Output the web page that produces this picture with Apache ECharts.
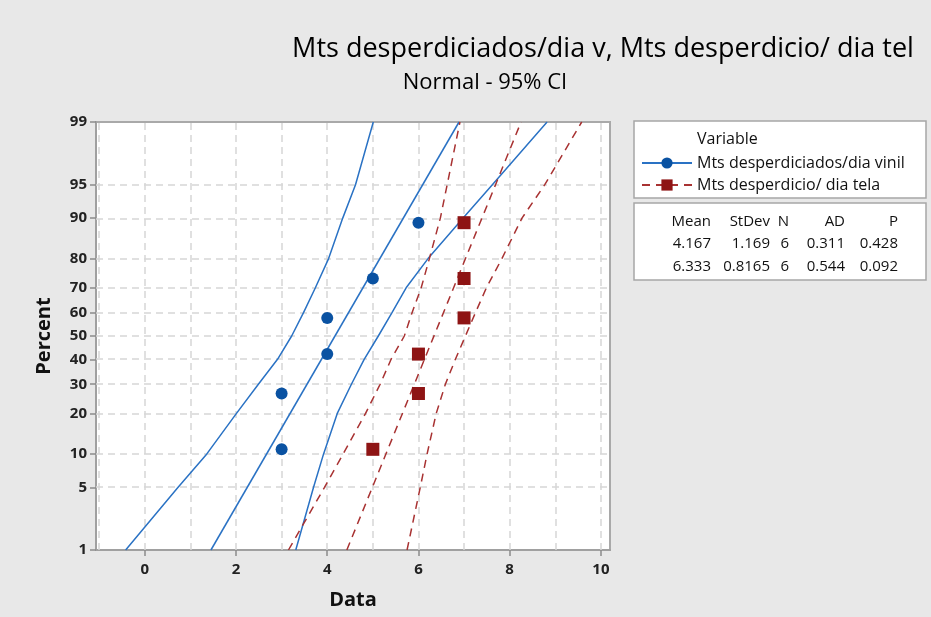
<!DOCTYPE html>
<html><head><meta charset="utf-8">
<script src="https://cdn.jsdelivr.net/npm/echarts@6/dist/echarts.min.js"></script>
<style>html,body{margin:0;padding:0;background:#e8e8e8;}#c{width:931px;height:617px;}</style>
</head><body><div id="c"></div>
<script>
// ---------- data ----------
const percentTicks = [1, 5, 10, 20, 30, 40, 50, 60, 70, 80, 90, 95, 99];
const xTickLabels = [0, 2, 4, 6, 8, 10];
const xGridValues = [-1, 0, 1, 2, 3, 4, 5, 6, 7, 8, 9, 10];

const vinilName = 'Mts desperdiciados/dia vinil';
const telaName = 'Mts desperdicio/ dia tela';

const plotPercents = [10.9, 26.6, 42.2, 57.8, 73.4, 89.1];
const vinilData = [3, 3, 4, 4, 5, 6];
const telaData = [5, 6, 6, 7, 7, 7];

const ciPercents = [1, 5, 10, 20, 30, 40, 50, 60, 70, 80, 90, 95, 99];
const vinilLower = [-0.42, 0.73, 1.36, 2.01, 2.49, 2.91, 3.22, 3.48, 3.74, 4.03, 4.34, 4.62, 5.01];
const vinilUpper = [3.31, 3.70, 3.92, 4.22, 4.53, 4.81, 5.12, 5.42, 5.73, 6.21, 6.98, 7.62, 8.82];
const telaLower = [3.15, 3.94, 4.35, 4.84, 5.16, 5.40, 5.69, 5.86, 6.06, 6.24, 6.48, 6.63, 6.91];
const telaUpper = [5.75, 6.04, 6.19, 6.39, 6.59, 6.81, 7.03, 7.25, 7.49, 7.83, 8.27, 8.77, 9.58];

const fitPercents = [1, 99];
const vinilFit = [1.45, 6.89];
const telaFit = [4.43, 8.25];

const statsHeader = ['Mean', 'StDev', 'N', 'AD', 'P'];
const statsVinil = ['4.167', '1.169', '6', '0.311', '0.428'];
const statsTela = ['6.333', '0.8165', '6', '0.544', '0.092'];

// ---------- normal probability scale ----------
function normInv(p) {
  const a = [-3.969683028665376e+01, 2.209460984245205e+02, -2.759285104469687e+02, 1.383577518672690e+02, -3.066479806614716e+01, 2.506628277459239e+00];
  const b = [-5.447609879822406e+01, 1.615858368580409e+02, -1.556989798598866e+02, 6.680131188771972e+01, -1.328068155288572e+01];
  const c = [-7.784894002430293e-03, -3.223964580411365e-01, -2.400758277161838e+00, -2.549732539343734e+00, 4.374664141464968e+00, 2.938163982698783e+00];
  const d = [7.784695709041462e-03, 3.224671290700398e-01, 2.445134137142996e+00, 3.754408661907416e+00];
  const pl = 0.02425, ph = 1 - pl;
  let q, r;
  if (p < pl) { q = Math.sqrt(-2 * Math.log(p)); return (((((c[0]*q+c[1])*q+c[2])*q+c[3])*q+c[4])*q+c[5]) / ((((d[0]*q+d[1])*q+d[2])*q+d[3])*q+1); }
  if (p <= ph) { q = p - 0.5; r = q*q; return (((((a[0]*r+a[1])*r+a[2])*r+a[3])*r+a[4])*r+a[5])*q / (((((b[0]*r+b[1])*r+b[2])*r+b[3])*r+b[4])*r+1); }
  q = Math.sqrt(-2 * Math.log(1 - p)); return -(((((c[0]*q+c[1])*q+c[2])*q+c[3])*q+c[4])*q+c[5]) / ((((d[0]*q+d[1])*q+d[2])*q+d[3])*q+1);
}
const zOf = p => normInv(p / 100);
const pair = (xs, ps) => xs.map((x, i) => [x, zOf(ps[i])]);

const FONT = '"Open Sans", "Noto Sans", sans-serif';
const BLUE_LINE = '#2a72c4', BLUE_PT = '#0a52a2';
const RED_LINE = '#a83232', RED_PT = '#8e1414';

const yTickZ = percentTicks.map(zOf);
function pctLabel(v) {
  let best = 0, bd = 1e9;
  yTickZ.forEach((z, i) => { const dd = Math.abs(z - v); if (dd < bd) { bd = dd; best = i; } });
  return String(percentTicks[best]);
}

const gridMarks = xGridValues.map(v => ({ xAxis: v }))
  .concat(percentTicks.filter(p => p !== 1 && p !== 99).map(p => ({ yAxis: zOf(p) })));

// stats table texts
const colRight = [711, 770, 789, 845, 898];
const rowY = [222, 244, 267];
const statTexts = [];
[statsHeader, statsVinil, statsTela].forEach((row, r) => {
  row.forEach((t, c) => {
    statTexts.push({ type: 'text', x: colRight[c], y: rowY[r], style: { text: t, font: '15px ' + FONT, fill: '#111', align: 'right', verticalAlign: 'middle' } });
  });
});

const chart = echarts.init(document.getElementById('c'));
chart.setOption({
  backgroundColor: '#e8e8e8',
  animation: false,
  title: [
    { text: 'Mts desperdiciados/dia v, Mts desperdicio/ dia tel', left: 598, top: 31, textAlign: 'center', textStyle: { fontFamily: FONT, fontSize: 27, fontWeight: 'normal', color: '#000' } },
    { text: 'Normal - 95% CI', left: 480, top: 67, textAlign: 'center', textStyle: { fontFamily: FONT, fontSize: 22, fontWeight: 'normal', color: '#000' } }
  ],
  grid: { left: 96, right: 321, top: 122, bottom: 67, show: true, backgroundColor: '#ffffff', borderColor: '#a9a9a9', borderWidth: 2 },
  xAxis: {
    type: 'value', min: -1.07, max: 10.2,
    name: 'Data', nameLocation: 'middle', nameGap: 40,
    nameTextStyle: { fontFamily: FONT, fontSize: 20, fontWeight: 'bold', color: '#111' },
    axisLine: { show: true, onZero: false, lineStyle: { color: '#a0a0a0', width: 2 } },
    axisTick: { show: true, customValues: xTickLabels, length: 6, lineStyle: { color: '#8a8a8a', width: 1.5 } },
    axisLabel: { customValues: xTickLabels, margin: 12, fontFamily: FONT, fontSize: 15, fontWeight: 'bold', color: '#222' },
    splitLine: { show: false }
  },
  yAxis: {
    type: 'value', min: zOf(1), max: zOf(99),
    name: 'Percent', nameLocation: 'middle', nameGap: 42, nameRotate: 90,
    nameTextStyle: { fontFamily: FONT, fontSize: 20, fontWeight: 'bold', color: '#111' },
    axisLine: { show: true, onZero: false, lineStyle: { color: '#a0a0a0', width: 2 } },
    axisTick: { show: true, customValues: yTickZ, length: 6, lineStyle: { color: '#8a8a8a', width: 1.5 } },
    axisLabel: { customValues: yTickZ, margin: 9, formatter: v => pctLabel(v), fontFamily: FONT, fontSize: 15, fontWeight: 'bold', color: '#222' },
    splitLine: { show: false }
  },
  legend: {
    data: [vinilName, telaName], orient: 'vertical', left: 636, top: 150,
    itemWidth: 50, itemHeight: 14, itemGap: 6, selectedMode: false, z: 10,
    textStyle: { fontFamily: FONT, fontSize: 16, color: '#111' }
  },
  graphic: [
    { type: 'rect', z: 1, shape: { x: 634, y: 121, width: 292, height: 77 }, style: { fill: '#fff', stroke: '#a6a6a6', lineWidth: 1.5 } },
    { type: 'rect', z: 1, shape: { x: 634, y: 203, width: 292, height: 77 }, style: { fill: '#fff', stroke: '#a6a6a6', lineWidth: 1.5 } },
    { type: 'text', z: 2, x: 697, y: 139, style: { text: 'Variable', font: '16px ' + FONT, fill: '#111', verticalAlign: 'middle' } }
  ].concat(statTexts.map(t => Object.assign({ z: 2 }, t))),
  series: [
    { name: 'grid', type: 'line', data: [], z: 1, silent: true,
      markLine: { silent: true, z: 1, symbol: ['none', 'none'], label: { show: false },
        lineStyle: { type: [7, 5], color: '#d6d6d6', width: 1.5 }, data: gridMarks, animation: false } },
    { name: vinilName, type: 'line', data: pair(vinilFit, fitPercents), showSymbol: false, symbol: 'circle', z: 3,
      lineStyle: { color: BLUE_LINE, width: 1.5 }, itemStyle: { color: BLUE_PT } },
    { name: 'vinil lower CI', type: 'line', data: pair(vinilLower, ciPercents), showSymbol: false, symbol: 'none', z: 3,
      lineStyle: { color: BLUE_LINE, width: 1.5 } },
    { name: 'vinil upper CI', type: 'line', data: pair(vinilUpper, ciPercents), showSymbol: false, symbol: 'none', z: 3,
      lineStyle: { color: BLUE_LINE, width: 1.5 } },
    { name: telaName, type: 'line', data: pair(telaFit, fitPercents), showSymbol: false, symbol: 'rect', z: 3,
      lineStyle: { color: RED_LINE, width: 1.5, type: [8, 6] }, itemStyle: { color: RED_PT } },
    { name: 'tela lower CI', type: 'line', data: pair(telaLower, ciPercents), showSymbol: false, symbol: 'none', z: 3,
      lineStyle: { color: RED_LINE, width: 1.5, type: [8, 6] } },
    { name: 'tela upper CI', type: 'line', data: pair(telaUpper, ciPercents), showSymbol: false, symbol: 'none', z: 3,
      lineStyle: { color: RED_LINE, width: 1.5, type: [8, 6] } },
    { name: vinilName, type: 'scatter', data: pair(vinilData, plotPercents), symbol: 'circle', symbolSize: 12, z: 5,
      itemStyle: { color: BLUE_PT, opacity: 1 } },
    { name: telaName, type: 'scatter', data: pair(telaData, plotPercents), symbol: 'rect', symbolSize: 13, z: 5,
      itemStyle: { color: RED_PT, opacity: 1 } }
  ]
});
</script>
</body></html>
